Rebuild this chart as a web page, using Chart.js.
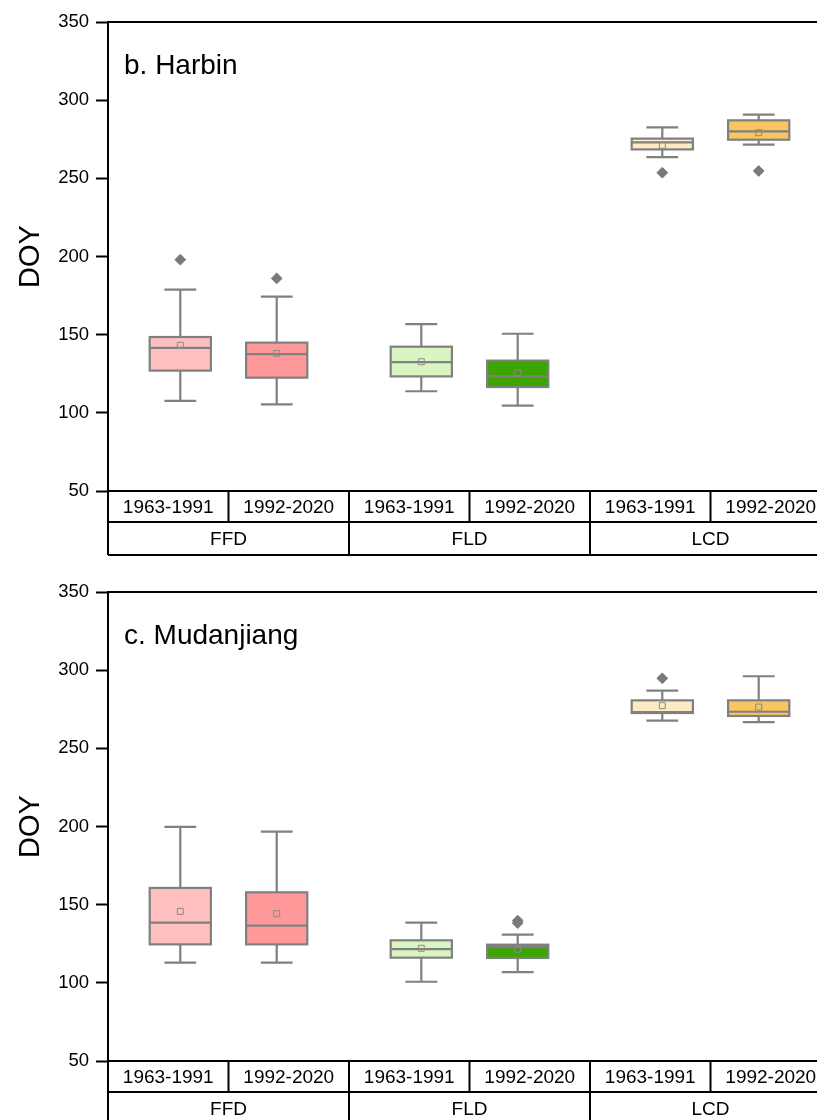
<!DOCTYPE html>
<html>
<head>
<meta charset="utf-8">
<title>DOY box plots</title>
<script src="https://cdn.jsdelivr.net/npm/chart.js@4.4.1/dist/chart.umd.min.js"></script>
<style>
  html, body { margin: 0; padding: 0; background: #fff; overflow: hidden; }
  .panel { position: relative; width: 840px; height: 570px; }
</style>
</head>
<body>
<div class="panel"><canvas id="harbin"></canvas></div>
<div class="panel"><canvas id="mudanjiang"></canvas></div>
<script>
const groups = ['FFD', 'FLD', 'LCD'];
const periods = ['1963-1991', '1992-2020'];
const yTicks = [50, 100, 150, 200, 250, 300, 350];

// one entry per box: FFD 63-91, FFD 92-20, FLD 63-91, FLD 92-20, LCD 63-91, LCD 92-20
const boxColors = ['#ffbfbf', '#ff9898', '#daf5c2', '#3da500', '#fdebc4', '#f9c561'];

const harbinMin = [107.6, 105.4, 113.8, 104.6, 263.6, 271.5];
const harbinQ1 = [127, 122.5, 123.3, 116.5, 268.5, 274.7];
const harbinMedian = [141.5, 137.6, 132.5, 123.3, 273, 280.1];
const harbinQ3 = [148.5, 144.9, 142.3, 133.4, 275.4, 287.1];
const harbinMax = [178.8, 174.3, 156.8, 150.6, 282.6, 290.7];
const harbinMean = [143.2, 138, 132.7, 125.5, 271.1, 279.2];
const harbinOutliers = [[198], [186], [], [], [253.6], [254.7]];

const mudanjiangMin = [112.9, 112.9, 100.7, 106.9, 267.7, 266.8];
const mudanjiangQ1 = [124.6, 124.6, 116.1, 115.9, 272.6, 270.7];
const mudanjiangMedian = [138.5, 136.6, 121.5, 122.9, 273.2, 273.4];
const mudanjiangQ3 = [160.7, 157.9, 127.2, 124.4, 280.7, 280.7];
const mudanjiangMax = [199.7, 196.7, 138.5, 130.8, 286.9, 296.1];
const mudanjiangMean = [145.7, 144.2, 122.1, 121.5, 277.3, 276.4];
const mudanjiangOutliers = [[], [], [], [138.2, 139.8], [294.8], []];

Chart.defaults.font.family = '"Liberation Sans", Arial, sans-serif';
Chart.defaults.color = '#000';

// x position of each box: group index, shifted left/right by period
const boxX = [];
groups.forEach((g, gi) => periods.forEach((p, pi) => boxX.push(gi + (pi === 0 ? -0.2 : 0.2))));

const GRAY = '#808080';

function makePanel(id, title, s) {
  const boxPlugin = {
    id: 'boxes_' + id,
    beforeDatasetsDraw(chart) {
      const { ctx, scales: { x, y } } = chart;
      ctx.save();
      ctx.strokeStyle = GRAY;
      ctx.lineWidth = 2.2;
      boxX.forEach((pos, i) => {
        const xc = x.getPixelForValue(pos);
        const xl = x.getPixelForValue(pos - 0.127);
        const xr = x.getPixelForValue(pos + 0.127);
        const cl = x.getPixelForValue(pos - 0.066);
        const cr = x.getPixelForValue(pos + 0.066);
        const yMin = y.getPixelForValue(s.min[i]);
        const yQ1 = y.getPixelForValue(s.q1[i]);
        const yMed = y.getPixelForValue(s.median[i]);
        const yQ3 = y.getPixelForValue(s.q3[i]);
        const yMax = y.getPixelForValue(s.max[i]);
        // whiskers and caps
        ctx.beginPath();
        ctx.moveTo(xc, yQ3); ctx.lineTo(xc, yMax);
        ctx.moveTo(cl, yMax); ctx.lineTo(cr, yMax);
        ctx.moveTo(xc, yQ1); ctx.lineTo(xc, yMin);
        ctx.moveTo(cl, yMin); ctx.lineTo(cr, yMin);
        ctx.stroke();
        // box
        ctx.fillStyle = boxColors[i];
        ctx.fillRect(xl, yQ3, xr - xl, yQ1 - yQ3);
        ctx.strokeRect(xl, yQ3, xr - xl, yQ1 - yQ3);
        // median
        ctx.beginPath();
        ctx.moveTo(xl, yMed); ctx.lineTo(xr, yMed);
        ctx.stroke();
      });
      ctx.restore();
    },
    afterDraw(chart) {
      const { ctx, chartArea: a, scales: { x } } = chart;
      ctx.save();
      ctx.strokeStyle = '#000';
      ctx.lineWidth = 2;
      // frame top and right
      ctx.beginPath();
      ctx.moveTo(a.left, a.top); ctx.lineTo(a.right, a.top); ctx.lineTo(a.right, a.bottom);
      ctx.stroke();

      // category table under the plot
      const r0 = a.bottom, r1 = a.bottom + 31, r2 = a.bottom + 64;
      ctx.beginPath();
      ctx.moveTo(a.left, r0); ctx.lineTo(a.right, r0);
      ctx.moveTo(a.left, r1); ctx.lineTo(a.right, r1);
      ctx.moveTo(a.left, r2); ctx.lineTo(a.right, r2);
      for (let g = 0; g <= groups.length; g++) {
        const xb = x.getPixelForValue(g - 0.5);
        ctx.moveTo(xb, r0); ctx.lineTo(xb, r2);
      }
      groups.forEach((g, gi) => {
        const xm = x.getPixelForValue(gi);
        ctx.moveTo(xm, r0); ctx.lineTo(xm, r1);
      });
      ctx.stroke();

      ctx.fillStyle = '#000';
      ctx.textAlign = 'center';
      ctx.textBaseline = 'middle';
      ctx.font = '19px "Liberation Sans", Arial, sans-serif';
      groups.forEach((g, gi) => {
        periods.forEach((p, pi) => {
          ctx.fillText(p, x.getPixelForValue(gi + (pi === 0 ? -0.25 : 0.25)), (r0 + r1) / 2 + 1);
        });
        ctx.fillText(g, x.getPixelForValue(gi), (r1 + r2) / 2 + 1);
      });

      // panel title inside the plot
      ctx.textAlign = 'left';
      ctx.textBaseline = 'alphabetic';
      ctx.font = '28px "Liberation Sans", Arial, sans-serif';
      ctx.fillText(title, a.left + 16, a.top + 52);
      ctx.restore();
    }
  };

  const means = boxX.map((pos, i) => ({ x: pos, y: s.mean[i] }));
  const outliers = [];
  boxX.forEach((pos, i) => s.outliers[i].forEach(v => outliers.push({ x: pos, y: v })));

  new Chart(document.getElementById(id), {
    type: 'scatter',
    data: {
      datasets: [
        {
          label: 'Mean',
          data: means,
          pointStyle: 'rect',
          pointRadius: 4.2,
          borderWidth: 1,
          borderColor: '#8a8a8a',
          backgroundColor: 'rgba(0,0,0,0)'
        },
        {
          label: 'Outliers',
          data: outliers,
          pointStyle: 'rectRot',
          pointRadius: 5.4,
          borderWidth: 1,
          borderColor: '#7a7a7a',
          backgroundColor: '#7a7a7a'
        }
      ]
    },
    options: {
      responsive: true,
      maintainAspectRatio: false,
      animation: false,
      layout: { padding: { top: 22, right: 9, bottom: 79, left: 0 } },
      scales: {
        x: { type: 'linear', min: -0.5, max: 2.5, display: false },
        y: {
          min: 50,
          max: 350,
          afterBuildTicks: scale => { scale.ticks = yTicks.map(v => ({ value: v })); },
          afterFit: scale => { scale.width = 108; },
          ticks: { font: { size: 18.5 }, color: '#000', padding: 7 },
          grid: { drawOnChartArea: false, tickLength: 12, tickColor: '#000', tickWidth: 2 },
          border: { color: '#000', width: 2 },
          title: { display: true, text: 'DOY', font: { size: 29 }, color: '#000', padding: { top: 14, bottom: 0 } }
        }
      },
      plugins: {
        legend: { display: false },
        tooltip: { enabled: false }
      }
    },
    plugins: [boxPlugin]
  });
}

makePanel('harbin', 'b. Harbin', {
  min: harbinMin, q1: harbinQ1, median: harbinMedian, q3: harbinQ3,
  max: harbinMax, mean: harbinMean, outliers: harbinOutliers
});
makePanel('mudanjiang', 'c. Mudanjiang', {
  min: mudanjiangMin, q1: mudanjiangQ1, median: mudanjiangMedian, q3: mudanjiangQ3,
  max: mudanjiangMax, mean: mudanjiangMean, outliers: mudanjiangOutliers
});
</script>
</body>
</html>
